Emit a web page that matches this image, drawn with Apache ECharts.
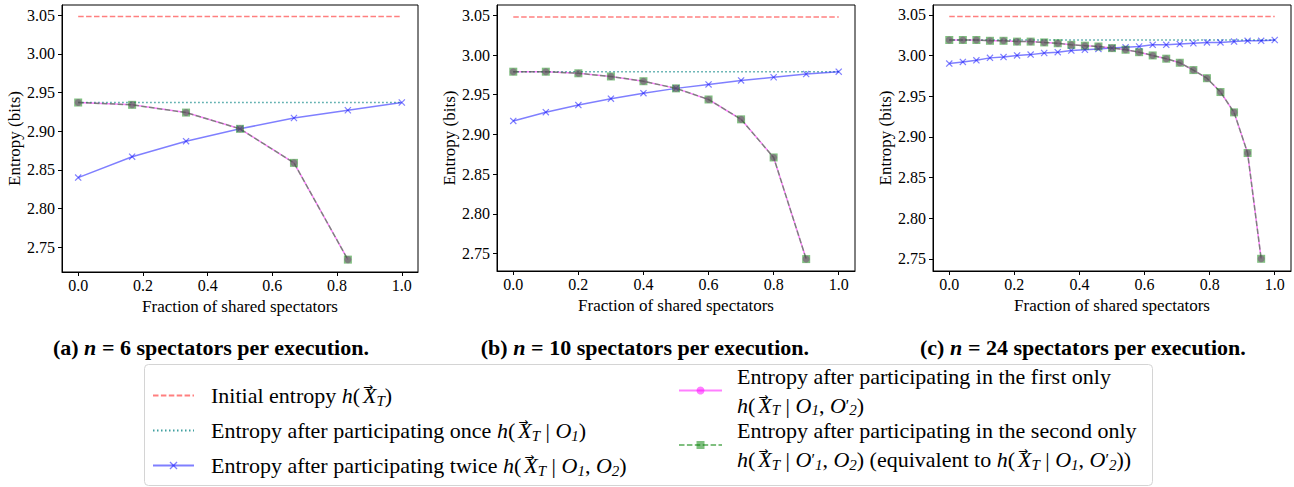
<!DOCTYPE html>
<html>
<head>
<meta charset="utf-8">
<script src="https://cdn.jsdelivr.net/npm/echarts@6/dist/echarts.min.js"></script>
<style>
html,body{margin:0;padding:0;background:#fff;}
#chart{width:1294px;height:487px;}
</style>
</head>
<body>
<div id="chart"></div>
<script>
// ---------------- data ----------------
const initialEntropy = [3.048, 3.048, 3.048];

const xA = [0, 0.1667, 0.3333, 0.5, 0.6667, 0.8333, 1.0];
const onceA = 2.937;
const twiceA = [2.840, 2.867, 2.887, 2.903, 2.917, 2.927, 2.937];
const firstA = [2.937, 2.934, 2.924, 2.903, 2.859, 2.734];
const secondA = [2.937, 2.934, 2.924, 2.903, 2.859, 2.734];

const xB = [0, 0.1, 0.2, 0.3, 0.4, 0.5, 0.6, 0.7, 0.8, 0.9, 1.0];
const onceB = 2.979;
const twiceB = [2.917, 2.928, 2.937, 2.945, 2.952, 2.958, 2.963, 2.968, 2.972, 2.976, 2.979];
const firstB = [2.979, 2.979, 2.977, 2.973, 2.967, 2.958, 2.944, 2.919, 2.871, 2.743];
const secondB = [2.979, 2.979, 2.977, 2.973, 2.967, 2.958, 2.944, 2.919, 2.871, 2.743];

const xC = [0, 0.0417, 0.0833, 0.125, 0.1667, 0.2083, 0.25, 0.2917, 0.3333, 0.375, 0.4167, 0.4583,
            0.5, 0.5417, 0.5833, 0.625, 0.6667, 0.7083, 0.75, 0.7917, 0.8333, 0.875, 0.9167, 0.9583, 1.0];
const onceC = 3.019;
const twiceC = [2.990, 2.992, 2.994, 2.997, 2.998, 3.000, 3.001, 3.003, 3.004, 3.006, 3.007, 3.008,
                3.009, 3.010, 3.011, 3.013, 3.013, 3.014, 3.015, 3.016, 3.016, 3.017, 3.018, 3.018, 3.019];
const firstC = [3.019, 3.019, 3.019, 3.018, 3.018, 3.017, 3.017, 3.016, 3.015, 3.013, 3.012, 3.011,
                3.009, 3.007, 3.004, 3.000, 2.996, 2.991, 2.982, 2.972, 2.955, 2.930, 2.880, 2.750];
const secondC = [3.019, 3.019, 3.019, 3.018, 3.018, 3.017, 3.017, 3.016, 3.015, 3.013, 3.012, 3.011,
                 3.009, 3.007, 3.004, 3.000, 2.996, 2.991, 2.982, 2.972, 2.955, 2.930, 2.880, 2.750];

const xTicks = [0, 0.2, 0.4, 0.6, 0.8, 1.0];
const yTicks = [2.75, 2.80, 2.85, 2.90, 2.95, 3.00, 3.05];

const captions = [
  ['(a) ', 'n', ' = 6 spectators per execution.'],
  ['(b) ', 'n', ' = 10 spectators per execution.'],
  ['(c) ', 'n', ' = 24 spectators per execution.']
];
const xAxisTitle = 'Fraction of shared spectators';
const yAxisTitle = 'Entropy (bits)';

const NAMES = ['initial', 'once', 'twice', 'first', 'second'];
const XT = '{v|\u2192}{i|X}{s|T}';
const LEGEND_TEXT = {
  initial: '{t|Initial entropy }{i|h}{t|(}' + XT + '{t|)}',
  once: '{t|Entropy after participating once }{i|h}{t|(}' + XT + '{t| | }{i|O}{s|1}{t|)}',
  twice: '{t|Entropy after participating twice }{i|h}{t|(}' + XT + '{t| | }{i|O}{s|1}{t|, }{i|O}{s|2}{t|)}',
  first: '{t|Entropy after participating in the first only}\n{i|h}{t|(}' + XT + '{t| | }{i|O}{s|1}{t|, }{i|O}{p|\u2032}{s|2}{t|)}',
  second: '{t|Entropy after participating in the second only}\n{i|h}{t|(}' + XT + '{t| | }{i|O}{p|\u2032}{s|1}{t|, }{i|O}{s|2}{t|) (equivalent to }{i|h}{t|(}' + XT + '{t| | }{i|O}{s|1}{t|, }{i|O}{p|\u2032}{s|2}{t|))}'
};

// ---------------- styling ----------------
const SERIF = 'Liberation Serif';
const panels = [
  {x: xA, once: onceA, twice: twiceA, first: firstA, second: secondA, init: initialEntropy[0],
   grid: {left: 62, top: 5, width: 356, height: 267}, ymin: 2.718, ymax: 3.063},
  {x: xB, once: onceB, twice: twiceB, first: firstB, second: secondB, init: initialEntropy[1],
   grid: {left: 497, top: 5, width: 358, height: 266}, ymin: 2.728, ymax: 3.063},
  {x: xC, once: onceC, twice: twiceC, first: firstC, second: secondC, init: initialEntropy[2],
   grid: {left: 933, top: 5, width: 358, height: 266}, ymin: 2.735, ymax: 3.062}
];
const captionCenters = [211, 645, 1083];

const RED = '#ff0000', TEAL = '#40a0a0', BLUE = '#0000ff', MAG = '#ff00ff', GREEN = '#008000';
const XMARK = 'path://M0,1.2L1.2,0L5,3.8L8.8,0L10,1.2L6.2,5L10,8.8L8.8,10L5,6.2L1.2,10L0,8.8L3.8,5Z';
const DASH = [5.5, 2.4], DOT = [1.5, 2.5];

const grids = [], xAxes = [], yAxes = [], series = [];
panels.forEach((p, i) => {
  grids.push(Object.assign({show: true, borderColor: '#000', borderWidth: 1, containLabel: false}, p.grid));
  xAxes.push({
    type: 'value', gridIndex: i, min: -0.05, max: 1.05,
    name: xAxisTitle, nameLocation: 'middle', nameGap: 22,
    nameTextStyle: {fontFamily: SERIF, fontSize: 17, color: '#000'},
    axisLine: {show: true, onZero: false, lineStyle: {color: '#000', width: 1}},
    axisTick: {show: true, length: 4, lineStyle: {color: '#000'}, customValues: xTicks},
    axisLabel: {fontFamily: SERIF, fontSize: 16, color: '#000', margin: 5,
                customValues: xTicks, formatter: v => v.toFixed(1)},
    splitLine: {show: false}
  });
  yAxes.push({
    type: 'value', gridIndex: i, min: p.ymin, max: p.ymax,
    name: yAxisTitle, nameLocation: 'middle', nameGap: 39,
    nameTextStyle: {fontFamily: SERIF, fontSize: 17, color: '#000'},
    axisLine: {show: true, onZero: false, lineStyle: {color: '#000', width: 1}},
    axisTick: {show: true, length: 4, lineStyle: {color: '#000'}, customValues: yTicks},
    axisLabel: {fontFamily: SERIF, fontSize: 16, color: '#000', margin: 7,
                customValues: yTicks, formatter: v => v.toFixed(2)},
    splitLine: {show: false}
  });
  const pairs = (xs, ys) => ys.map((y, k) => [xs[k], y]);
  series.push({
    name: 'initial', type: 'line', xAxisIndex: i, yAxisIndex: i, symbol: 'none', silent: true,
    data: p.x.map(x => [x, p.init]),
    lineStyle: {color: RED, width: 1.5, opacity: 0.5, type: DASH}, itemStyle: {color: RED, opacity: 0.5}
  });
  series.push({
    name: 'once', type: 'line', xAxisIndex: i, yAxisIndex: i, symbol: 'none', silent: true,
    data: p.x.map(x => [x, p.once]),
    lineStyle: {color: TEAL, width: 1.5, opacity: 1, type: DOT}, itemStyle: {color: TEAL}
  });
  series.push({
    name: 'twice', type: 'line', xAxisIndex: i, yAxisIndex: i, symbol: XMARK, symbolSize: 7, silent: true,
    data: pairs(p.x, p.twice),
    lineStyle: {color: BLUE, width: 1.5, opacity: 0.5}, itemStyle: {color: BLUE, opacity: 0.5}
  });
  series.push({
    name: 'first', type: 'line', xAxisIndex: i, yAxisIndex: i, symbol: 'circle', symbolSize: 7, silent: true,
    data: pairs(p.x, p.first),
    lineStyle: {color: MAG, width: 1.5, opacity: 0.5}, itemStyle: {color: MAG, opacity: 0.5}
  });
  series.push({
    name: 'second', type: 'line', xAxisIndex: i, yAxisIndex: i, symbol: 'rect', symbolSize: 8, silent: true,
    data: pairs(p.x, p.second),
    lineStyle: {color: GREEN, width: 1.5, opacity: 0.5, type: DASH}, itemStyle: {color: GREEN, opacity: 0.5}
  });
});

const rich = {
  t: {fontFamily: SERIF, fontSize: 22, color: '#000', lineHeight: 29},
  i: {fontFamily: SERIF, fontSize: 22, fontStyle: 'italic', color: '#000', lineHeight: 29},
  v: {fontFamily: 'DejaVu Sans', fontSize: 12, color: '#000', lineHeight: 12, width: 0.01, verticalAlign: 'top', padding: [0, 0, 0, 3]},
  p: {fontFamily: SERIF, fontSize: 16, color: '#000', lineHeight: 29},
  s: {fontFamily: SERIF, fontSize: 15, fontStyle: 'italic', color: '#000', lineHeight: 15, verticalAlign: 'bottom', padding: [0, 0, 2, 0]},
  b: {fontFamily: SERIF, fontSize: 22, fontWeight: 'bold', color: '#000'},
  bi: {fontFamily: SERIF, fontSize: 22, fontWeight: 'bold', fontStyle: 'italic', color: '#000'}
};

const option = {
  backgroundColor: '#fff',
  animation: false,
  grid: grids, xAxis: xAxes, yAxis: yAxes, series: series,
  legend: [
    {
      data: [
        {name: 'initial', itemStyle: {opacity: 0}},
        {name: 'once', itemStyle: {opacity: 0}},
        {name: 'twice'}
      ],
      orient: 'vertical', left: 152, top: 381,
      itemWidth: 41, itemHeight: 10, itemGap: 6, selectedMode: false, padding: 0,
      formatter: n => LEGEND_TEXT[n],
      textStyle: {rich: rich, padding: [0, 0, 0, 12]}
    },
    {
      data: NAMES.slice(3), orient: 'vertical', left: 678, top: 365,
      itemWidth: 43, itemHeight: 10, itemGap: 0, selectedMode: false, padding: 0,
      formatter: n => LEGEND_TEXT[n],
      textStyle: {rich: rich, padding: [0, 0, 0, 10]}
    }
  ],
  graphic: [{
    type: 'rect', z: -10, silent: true,
    shape: {x: 144.5, y: 364.5, width: 1008, height: 121, r: 4},
    style: {fill: '#fff', stroke: '#d4d4d4', lineWidth: 1}
  }].concat(captions.map((c, k) => ({
    type: 'text', silent: true,
    x: captionCenters[k], y: 347,
    style: {
      text: '{b|' + c[0] + '}{bi|' + c[1] + '}{b|' + c[2] + '}',
      rich: rich, align: 'center', verticalAlign: 'middle'
    }
  })))
};

const chart = echarts.init(document.getElementById('chart'), null, {renderer: 'svg'});
chart.setOption(option);
</script>
</body>
</html>
